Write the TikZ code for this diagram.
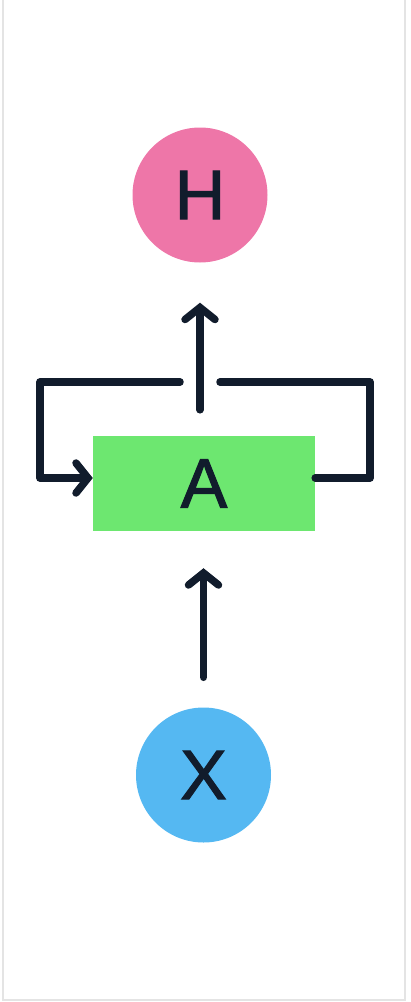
\documentclass[tikz,border=0pt]{standalone}
\usepackage{fontspec}
\setmainfont{Liberation Sans}
\newfontfamily\lblfont[FakeBold=1.5]{Liberation Sans}
\usetikzlibrary{arrows.meta, positioning}

\definecolor{hpink}{HTML}{EE76A8}
\definecolor{agreen}{HTML}{6DE770}
\definecolor{xblue}{HTML}{55B8F2}
\definecolor{ink}{HTML}{111C2C}
\definecolor{framegray}{HTML}{E4E4E4}

\begin{document}
\begin{tikzpicture}[x=1pt, y=-1pt,
		circ/.style={circle, minimum size=135pt, inner sep=0pt, font=\lblfont\fontsize{70}{70}\selectfont, text=ink},
		cell/.style={rectangle, fill=agreen, minimum width=222pt, minimum height=95pt, inner sep=0pt, font=\lblfont\fontsize{70}{70}\selectfont, text=ink},
		wire/.style={draw=ink, line width=7.5pt, line cap=round, line join=round},
		arr/.style={wire, -{Straight Barb[length=12pt, width=30pt, line cap=round]}}]
			\useasboundingbox (0,0) rectangle (410,1002);
			\draw[framegray, line width=2pt] (3,0) -- (3,1000) -- (405,1000) -- (405,0);

			\node[cell] (A) at (204,483.5) {A};
			\node[circ, fill=hpink] (H) at (200,195) {H};
			\node[circ, fill=xblue] (X) at (203.5,775) {X};

			\coordinate (gl) at (180,382);
			\coordinate (gr) at (220,382);
			\coordinate (tl) at (40,382);
			\coordinate (tr) at (370,382);
			\coordinate (bl) at (40,478);
			\coordinate (br) at (370,478);

			\draw[arr, shorten <=26pt, shorten >=40pt] (H |- A.north) -- (H.south);
			\draw[arr, shorten <=30pt, shorten >=37pt] (X.north) -- (X |- A.south);
			\draw[arr] (gl) -- (tl) -- (bl) -- (A.west |- bl);
			\draw[wire] (gr) -- (tr) -- (br) -- (A.east |- br);
		\end{tikzpicture}
\end{document}
